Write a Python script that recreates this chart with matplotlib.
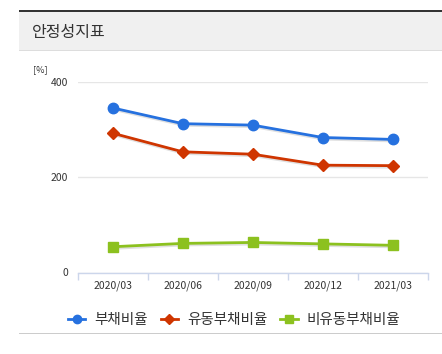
import matplotlib
matplotlib.use("Agg")
import matplotlib.pyplot as plt
from matplotlib.patches import Rectangle
from matplotlib.lines import Line2D
import numpy as np

plt.rcParams['font.family'] = ['Noto Sans CJK KR', 'DejaVu Sans']

periods = ['2020/03', '2020/06', '2020/09', '2020/12', '2021/03']
debt_ratio = [345, 312, 309, 283, 279]
current_debt_ratio = [292, 253, 248, 225, 224]
noncurrent_debt_ratio = [54, 61, 63, 60, 57]
series_names = ['부채비율', '유동부채비율', '비유동부채비율']

W, H = 442, 354
fig = plt.figure(figsize=(W / 100, H / 100), dpi=100)

def fx(px):
    return px / W

def fy(py):
    return 1 - py / H

# header band
fig.patches.append(Rectangle((fx(19), fy(50)), fx(W - 19), (50 - 12) / H,
                             transform=fig.transFigure, color='#f0f0f0', zorder=0, lw=0))
fig.patches.append(Rectangle((fx(19), fy(12)), fx(W - 19), 2 / H,
                             transform=fig.transFigure, color='#333333', zorder=1, lw=0))
fig.patches.append(Rectangle((fx(19), fy(51)), fx(W - 19), 1 / H,
                             transform=fig.transFigure, color='#dddddd', zorder=1, lw=0))
fig.text(fx(32), fy(32), '안정성지표', fontsize=11.5, color='#333333', va='center', ha='left')

# bottom rule
fig.patches.append(Rectangle((fx(19), fy(334)), fx(W - 19), 1 / H,
                             transform=fig.transFigure, color='#cccccc', zorder=1, lw=0))

left, right, top, bottom = 77.7, 427.7, 81.7, 272.5
ax = fig.add_axes([fx(left), fy(bottom), (right - left) / W, (bottom - top) / H])
x = np.arange(len(periods))
ax.set_xlim(-0.5, len(periods) - 0.5)
ax.set_ylim(0, 400)

styles = [
    (debt_ratio, '#2671df', 'o', 7.5),
    (current_debt_ratio, '#cf3500', 'D', 6),
    (noncurrent_debt_ratio, '#8cc11f', 's', 7.5),
]
handles = []
for (vals, col, mk, ms), name in zip(styles, series_names):
    # soft shadow under the line
    ax.plot(x + 0.015, np.array(vals) - 2.5, color='#000000', alpha=0.12, lw=2.6,
            solid_capstyle='round', zorder=2)
    ax.plot(x, vals, color=col, lw=2, marker=mk, ms=ms, mec=col, mfc=col, zorder=3,
            clip_on=False)
    handles.append(Line2D([], [], color=col, lw=2, marker=mk, ms=ms * 0.8, mec=col, mfc=col))

ax.set_yticks([0, 200, 400])
ax.set_yticklabels(['0', '200', '400'])
ax.yaxis.grid(True, color='#e6e6e6', lw=1)
ax.set_axisbelow(True)
ax.tick_params(axis='y', length=0, pad=7, labelsize=7.5, labelcolor='#333333')

ax.set_xticks(x)
ax.set_xticklabels(periods)
ax.set_xticks(np.arange(-0.5, len(periods)), minor=True)
ax.tick_params(axis='x', which='major', length=0, pad=6, labelsize=7.5, labelcolor='#333333')
ax.tick_params(axis='x', which='minor', length=5, width=1, color='#ccd6eb', direction='out')

for s in ['top', 'right', 'left']:
    ax.spines[s].set_visible(False)
ax.spines['bottom'].set_color('#ccd6eb')
ax.spines['bottom'].set_linewidth(1)

fig.text(fx(33), fy(70), '[%]', fontsize=6.5, color='#333333', ha='left', va='center')

fig.legend(handles, series_names, loc='center', bbox_to_anchor=(fx(234), fy(320)),
           ncol=3, frameon=False, fontsize=10.5, handlelength=1.2, handletextpad=0.6,
           columnspacing=0.9, labelcolor='#333333')

fig.savefig('out.png', dpi=100)
